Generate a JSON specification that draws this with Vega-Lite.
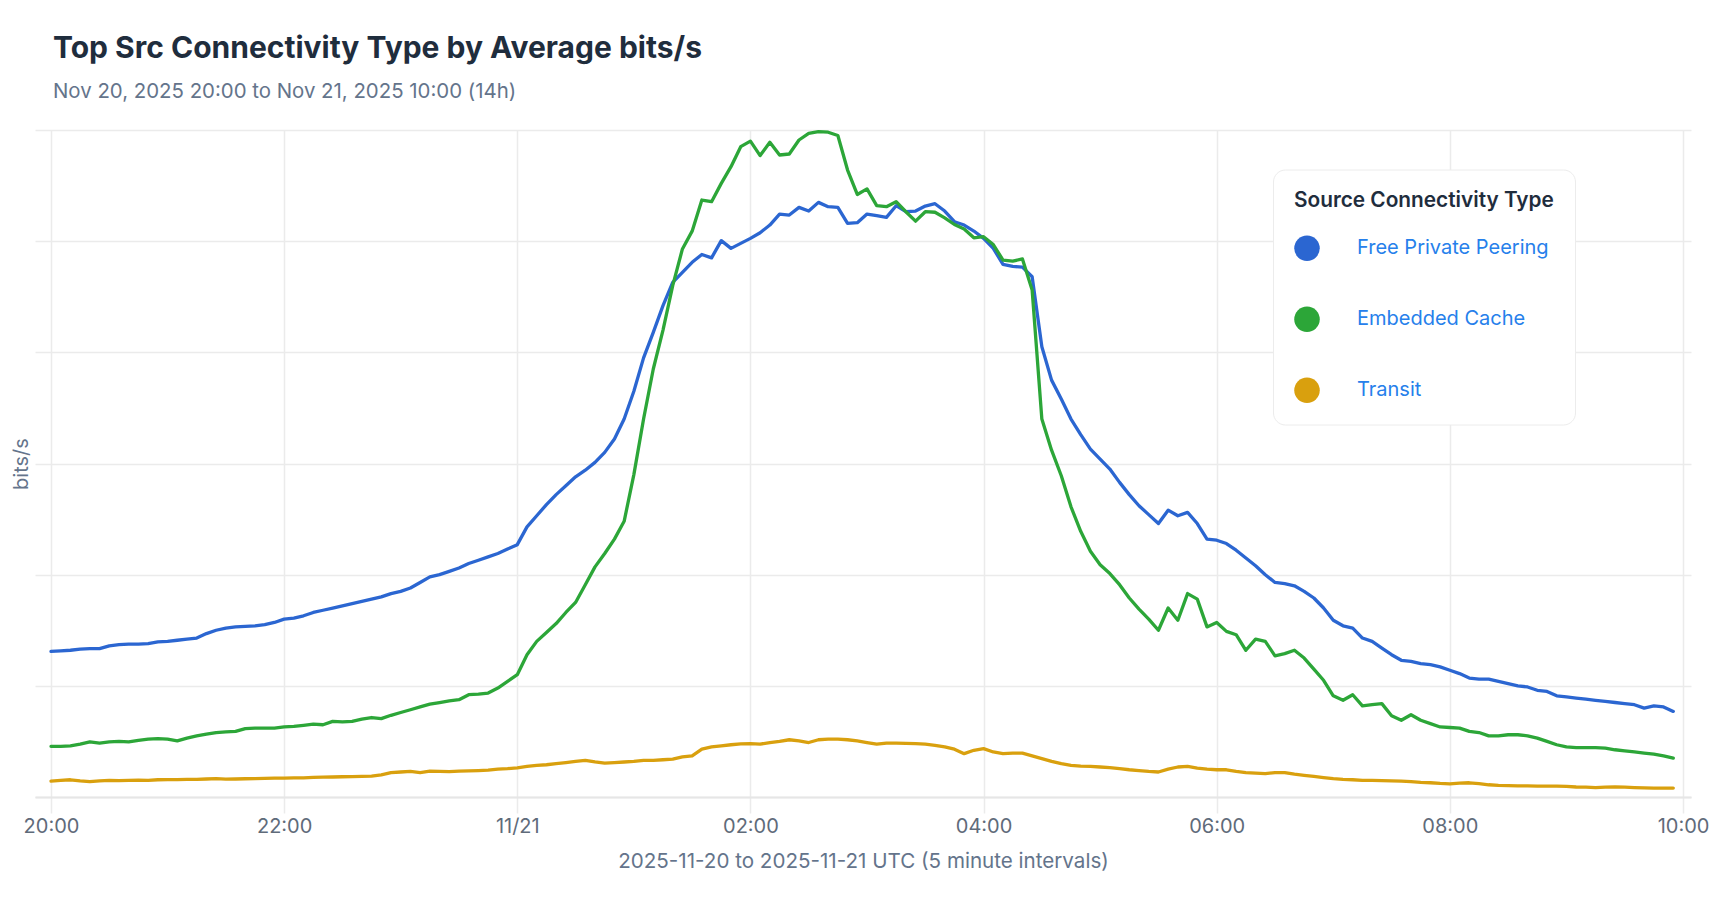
{
"$schema": "https://vega.github.io/schema/vega-lite/v6.json",
"autosize": {"type": "none"},
"width": 1656,
"height": 667,
"padding": {"left": 35, "top": 130, "right": 37, "bottom": 102},
"background": "#ffffff",
"config": {
  "font": "Inter",
  "view": {"stroke": null},
  "axis": {"gridColor": "#ebebeb", "gridWidth": 1.5, "labelFont": "Inter", "titleFont": "Inter", "titleFontWeight": "normal"}
},
"title": {
  "text": "Top Src Connectivity Type by Average bits/s",
  "subtitle": "Nov 20, 2025 20:00 to Nov 21, 2025 10:00 (14h)",
  "anchor": "start", "frame": "group", "dx": 18, "offset": 28,
  "font": "Inter", "fontSize": 30, "fontWeight": 700, "color": "#1f2d3d",
  "subtitleFont": "Inter", "subtitleFontSize": 20.4, "subtitleColor": "#64748b", "subtitlePadding": 18
},
"data": {"values": [
{"t":"2025-11-20T20:00Z","s":"Free Private Peering","v":13.1},
{"t":"2025-11-20T20:05Z","s":"Free Private Peering","v":13.15},
{"t":"2025-11-20T20:10Z","s":"Free Private Peering","v":13.2},
{"t":"2025-11-20T20:15Z","s":"Free Private Peering","v":13.3},
{"t":"2025-11-20T20:20Z","s":"Free Private Peering","v":13.35},
{"t":"2025-11-20T20:25Z","s":"Free Private Peering","v":13.35},
{"t":"2025-11-20T20:30Z","s":"Free Private Peering","v":13.6},
{"t":"2025-11-20T20:35Z","s":"Free Private Peering","v":13.7},
{"t":"2025-11-20T20:40Z","s":"Free Private Peering","v":13.75},
{"t":"2025-11-20T20:45Z","s":"Free Private Peering","v":13.75},
{"t":"2025-11-20T20:50Z","s":"Free Private Peering","v":13.8},
{"t":"2025-11-20T20:55Z","s":"Free Private Peering","v":13.95},
{"t":"2025-11-20T21:00Z","s":"Free Private Peering","v":14.0},
{"t":"2025-11-20T21:05Z","s":"Free Private Peering","v":14.1},
{"t":"2025-11-20T21:10Z","s":"Free Private Peering","v":14.2},
{"t":"2025-11-20T21:15Z","s":"Free Private Peering","v":14.3},
{"t":"2025-11-20T21:20Z","s":"Free Private Peering","v":14.7},
{"t":"2025-11-20T21:25Z","s":"Free Private Peering","v":15.0},
{"t":"2025-11-20T21:30Z","s":"Free Private Peering","v":15.2},
{"t":"2025-11-20T21:35Z","s":"Free Private Peering","v":15.3},
{"t":"2025-11-20T21:40Z","s":"Free Private Peering","v":15.35},
{"t":"2025-11-20T21:45Z","s":"Free Private Peering","v":15.4},
{"t":"2025-11-20T21:50Z","s":"Free Private Peering","v":15.5},
{"t":"2025-11-20T21:55Z","s":"Free Private Peering","v":15.7},
{"t":"2025-11-20T22:00Z","s":"Free Private Peering","v":16.0},
{"t":"2025-11-20T22:05Z","s":"Free Private Peering","v":16.1},
{"t":"2025-11-20T22:10Z","s":"Free Private Peering","v":16.3},
{"t":"2025-11-20T22:15Z","s":"Free Private Peering","v":16.6},
{"t":"2025-11-20T22:20Z","s":"Free Private Peering","v":16.8},
{"t":"2025-11-20T22:25Z","s":"Free Private Peering","v":17.0},
{"t":"2025-11-20T22:30Z","s":"Free Private Peering","v":17.2},
{"t":"2025-11-20T22:35Z","s":"Free Private Peering","v":17.4},
{"t":"2025-11-20T22:40Z","s":"Free Private Peering","v":17.6},
{"t":"2025-11-20T22:45Z","s":"Free Private Peering","v":17.8},
{"t":"2025-11-20T22:50Z","s":"Free Private Peering","v":18.0},
{"t":"2025-11-20T22:55Z","s":"Free Private Peering","v":18.3},
{"t":"2025-11-20T23:00Z","s":"Free Private Peering","v":18.5},
{"t":"2025-11-20T23:05Z","s":"Free Private Peering","v":18.8},
{"t":"2025-11-20T23:10Z","s":"Free Private Peering","v":19.3},
{"t":"2025-11-20T23:15Z","s":"Free Private Peering","v":19.8},
{"t":"2025-11-20T23:20Z","s":"Free Private Peering","v":20.0},
{"t":"2025-11-20T23:25Z","s":"Free Private Peering","v":20.3},
{"t":"2025-11-20T23:30Z","s":"Free Private Peering","v":20.6},
{"t":"2025-11-20T23:35Z","s":"Free Private Peering","v":21.0},
{"t":"2025-11-20T23:40Z","s":"Free Private Peering","v":21.3},
{"t":"2025-11-20T23:45Z","s":"Free Private Peering","v":21.6},
{"t":"2025-11-20T23:50Z","s":"Free Private Peering","v":21.9},
{"t":"2025-11-20T23:55Z","s":"Free Private Peering","v":22.3},
{"t":"2025-11-21T00:00Z","s":"Free Private Peering","v":22.7},
{"t":"2025-11-21T00:05Z","s":"Free Private Peering","v":24.3},
{"t":"2025-11-21T00:10Z","s":"Free Private Peering","v":25.3},
{"t":"2025-11-21T00:15Z","s":"Free Private Peering","v":26.3},
{"t":"2025-11-21T00:20Z","s":"Free Private Peering","v":27.2},
{"t":"2025-11-21T00:25Z","s":"Free Private Peering","v":28.0},
{"t":"2025-11-21T00:30Z","s":"Free Private Peering","v":28.8},
{"t":"2025-11-21T00:35Z","s":"Free Private Peering","v":29.4},
{"t":"2025-11-21T00:40Z","s":"Free Private Peering","v":30.1},
{"t":"2025-11-21T00:45Z","s":"Free Private Peering","v":31.0},
{"t":"2025-11-21T00:50Z","s":"Free Private Peering","v":32.2},
{"t":"2025-11-21T00:55Z","s":"Free Private Peering","v":34.0},
{"t":"2025-11-21T01:00Z","s":"Free Private Peering","v":36.5},
{"t":"2025-11-21T01:05Z","s":"Free Private Peering","v":39.5},
{"t":"2025-11-21T01:10Z","s":"Free Private Peering","v":41.8},
{"t":"2025-11-21T01:15Z","s":"Free Private Peering","v":44.2},
{"t":"2025-11-21T01:20Z","s":"Free Private Peering","v":46.3},
{"t":"2025-11-21T01:25Z","s":"Free Private Peering","v":47.2},
{"t":"2025-11-21T01:30Z","s":"Free Private Peering","v":48.1},
{"t":"2025-11-21T01:35Z","s":"Free Private Peering","v":48.8},
{"t":"2025-11-21T01:40Z","s":"Free Private Peering","v":48.5},
{"t":"2025-11-21T01:45Z","s":"Free Private Peering","v":50.05},
{"t":"2025-11-21T01:50Z","s":"Free Private Peering","v":49.35},
{"t":"2025-11-21T01:55Z","s":"Free Private Peering","v":49.8},
{"t":"2025-11-21T02:00Z","s":"Free Private Peering","v":50.25},
{"t":"2025-11-21T02:05Z","s":"Free Private Peering","v":50.76},
{"t":"2025-11-21T02:10Z","s":"Free Private Peering","v":51.45},
{"t":"2025-11-21T02:15Z","s":"Free Private Peering","v":52.44},
{"t":"2025-11-21T02:20Z","s":"Free Private Peering","v":52.35},
{"t":"2025-11-21T02:25Z","s":"Free Private Peering","v":53.04},
{"t":"2025-11-21T02:30Z","s":"Free Private Peering","v":52.71},
{"t":"2025-11-21T02:35Z","s":"Free Private Peering","v":53.49},
{"t":"2025-11-21T02:40Z","s":"Free Private Peering","v":53.1},
{"t":"2025-11-21T02:45Z","s":"Free Private Peering","v":53.04},
{"t":"2025-11-21T02:50Z","s":"Free Private Peering","v":51.6},
{"t":"2025-11-21T02:55Z","s":"Free Private Peering","v":51.66},
{"t":"2025-11-21T03:00Z","s":"Free Private Peering","v":52.44},
{"t":"2025-11-21T03:05Z","s":"Free Private Peering","v":52.29},
{"t":"2025-11-21T03:10Z","s":"Free Private Peering","v":52.14},
{"t":"2025-11-21T03:15Z","s":"Free Private Peering","v":53.19},
{"t":"2025-11-21T03:20Z","s":"Free Private Peering","v":52.65},
{"t":"2025-11-21T03:25Z","s":"Free Private Peering","v":52.71},
{"t":"2025-11-21T03:30Z","s":"Free Private Peering","v":53.16},
{"t":"2025-11-21T03:35Z","s":"Free Private Peering","v":53.37},
{"t":"2025-11-21T03:40Z","s":"Free Private Peering","v":52.71},
{"t":"2025-11-21T03:45Z","s":"Free Private Peering","v":51.75},
{"t":"2025-11-21T03:50Z","s":"Free Private Peering","v":51.45},
{"t":"2025-11-21T03:55Z","s":"Free Private Peering","v":50.91},
{"t":"2025-11-21T04:00Z","s":"Free Private Peering","v":50.25},
{"t":"2025-11-21T04:05Z","s":"Free Private Peering","v":49.35},
{"t":"2025-11-21T04:10Z","s":"Free Private Peering","v":47.91},
{"t":"2025-11-21T04:15Z","s":"Free Private Peering","v":47.73},
{"t":"2025-11-21T04:20Z","s":"Free Private Peering","v":47.67},
{"t":"2025-11-21T04:25Z","s":"Free Private Peering","v":46.8},
{"t":"2025-11-21T04:30Z","s":"Free Private Peering","v":40.5},
{"t":"2025-11-21T04:35Z","s":"Free Private Peering","v":37.5},
{"t":"2025-11-21T04:40Z","s":"Free Private Peering","v":35.8},
{"t":"2025-11-21T04:45Z","s":"Free Private Peering","v":34.0},
{"t":"2025-11-21T04:50Z","s":"Free Private Peering","v":32.6},
{"t":"2025-11-21T04:55Z","s":"Free Private Peering","v":31.3},
{"t":"2025-11-21T05:00Z","s":"Free Private Peering","v":30.4},
{"t":"2025-11-21T05:05Z","s":"Free Private Peering","v":29.5},
{"t":"2025-11-21T05:10Z","s":"Free Private Peering","v":28.3},
{"t":"2025-11-21T05:15Z","s":"Free Private Peering","v":27.2},
{"t":"2025-11-21T05:20Z","s":"Free Private Peering","v":26.2},
{"t":"2025-11-21T05:25Z","s":"Free Private Peering","v":25.4},
{"t":"2025-11-21T05:30Z","s":"Free Private Peering","v":24.6},
{"t":"2025-11-21T05:35Z","s":"Free Private Peering","v":25.8},
{"t":"2025-11-21T05:40Z","s":"Free Private Peering","v":25.3},
{"t":"2025-11-21T05:45Z","s":"Free Private Peering","v":25.6},
{"t":"2025-11-21T05:50Z","s":"Free Private Peering","v":24.6},
{"t":"2025-11-21T05:55Z","s":"Free Private Peering","v":23.2},
{"t":"2025-11-21T06:00Z","s":"Free Private Peering","v":23.1},
{"t":"2025-11-21T06:05Z","s":"Free Private Peering","v":22.8},
{"t":"2025-11-21T06:10Z","s":"Free Private Peering","v":22.2},
{"t":"2025-11-21T06:15Z","s":"Free Private Peering","v":21.5},
{"t":"2025-11-21T06:20Z","s":"Free Private Peering","v":20.8},
{"t":"2025-11-21T06:25Z","s":"Free Private Peering","v":20.0},
{"t":"2025-11-21T06:30Z","s":"Free Private Peering","v":19.3},
{"t":"2025-11-21T06:35Z","s":"Free Private Peering","v":19.2},
{"t":"2025-11-21T06:40Z","s":"Free Private Peering","v":19.0},
{"t":"2025-11-21T06:45Z","s":"Free Private Peering","v":18.5},
{"t":"2025-11-21T06:50Z","s":"Free Private Peering","v":17.9},
{"t":"2025-11-21T06:55Z","s":"Free Private Peering","v":17.0},
{"t":"2025-11-21T07:00Z","s":"Free Private Peering","v":15.9},
{"t":"2025-11-21T07:05Z","s":"Free Private Peering","v":15.4},
{"t":"2025-11-21T07:10Z","s":"Free Private Peering","v":15.2},
{"t":"2025-11-21T07:15Z","s":"Free Private Peering","v":14.3},
{"t":"2025-11-21T07:20Z","s":"Free Private Peering","v":14.0},
{"t":"2025-11-21T07:25Z","s":"Free Private Peering","v":13.4},
{"t":"2025-11-21T07:30Z","s":"Free Private Peering","v":12.8},
{"t":"2025-11-21T07:35Z","s":"Free Private Peering","v":12.3},
{"t":"2025-11-21T07:40Z","s":"Free Private Peering","v":12.2},
{"t":"2025-11-21T07:45Z","s":"Free Private Peering","v":12.0},
{"t":"2025-11-21T07:50Z","s":"Free Private Peering","v":11.9},
{"t":"2025-11-21T07:55Z","s":"Free Private Peering","v":11.7},
{"t":"2025-11-21T08:00Z","s":"Free Private Peering","v":11.4},
{"t":"2025-11-21T08:05Z","s":"Free Private Peering","v":11.1},
{"t":"2025-11-21T08:10Z","s":"Free Private Peering","v":10.7},
{"t":"2025-11-21T08:15Z","s":"Free Private Peering","v":10.6},
{"t":"2025-11-21T08:20Z","s":"Free Private Peering","v":10.6},
{"t":"2025-11-21T08:25Z","s":"Free Private Peering","v":10.4},
{"t":"2025-11-21T08:30Z","s":"Free Private Peering","v":10.2},
{"t":"2025-11-21T08:35Z","s":"Free Private Peering","v":10.0},
{"t":"2025-11-21T08:40Z","s":"Free Private Peering","v":9.9},
{"t":"2025-11-21T08:45Z","s":"Free Private Peering","v":9.6},
{"t":"2025-11-21T08:50Z","s":"Free Private Peering","v":9.5},
{"t":"2025-11-21T08:55Z","s":"Free Private Peering","v":9.1},
{"t":"2025-11-21T09:00Z","s":"Free Private Peering","v":9.0},
{"t":"2025-11-21T09:05Z","s":"Free Private Peering","v":8.9},
{"t":"2025-11-21T09:10Z","s":"Free Private Peering","v":8.8},
{"t":"2025-11-21T09:15Z","s":"Free Private Peering","v":8.7},
{"t":"2025-11-21T09:20Z","s":"Free Private Peering","v":8.6},
{"t":"2025-11-21T09:25Z","s":"Free Private Peering","v":8.5},
{"t":"2025-11-21T09:30Z","s":"Free Private Peering","v":8.4},
{"t":"2025-11-21T09:35Z","s":"Free Private Peering","v":8.3},
{"t":"2025-11-21T09:40Z","s":"Free Private Peering","v":8.0},
{"t":"2025-11-21T09:45Z","s":"Free Private Peering","v":8.2},
{"t":"2025-11-21T09:50Z","s":"Free Private Peering","v":8.1},
{"t":"2025-11-21T09:55Z","s":"Free Private Peering","v":7.7},
{"t":"2025-11-20T20:00Z","s":"Embedded Cache","v":4.56},
{"t":"2025-11-20T20:05Z","s":"Embedded Cache","v":4.55},
{"t":"2025-11-20T20:10Z","s":"Embedded Cache","v":4.6},
{"t":"2025-11-20T20:15Z","s":"Embedded Cache","v":4.75},
{"t":"2025-11-20T20:20Z","s":"Embedded Cache","v":4.95},
{"t":"2025-11-20T20:25Z","s":"Embedded Cache","v":4.85},
{"t":"2025-11-20T20:30Z","s":"Embedded Cache","v":4.95},
{"t":"2025-11-20T20:35Z","s":"Embedded Cache","v":5.0},
{"t":"2025-11-20T20:40Z","s":"Embedded Cache","v":4.95},
{"t":"2025-11-20T20:45Z","s":"Embedded Cache","v":5.1},
{"t":"2025-11-20T20:50Z","s":"Embedded Cache","v":5.2},
{"t":"2025-11-20T20:55Z","s":"Embedded Cache","v":5.25},
{"t":"2025-11-20T21:00Z","s":"Embedded Cache","v":5.2},
{"t":"2025-11-20T21:05Z","s":"Embedded Cache","v":5.05},
{"t":"2025-11-20T21:10Z","s":"Embedded Cache","v":5.3},
{"t":"2025-11-20T21:15Z","s":"Embedded Cache","v":5.5},
{"t":"2025-11-20T21:20Z","s":"Embedded Cache","v":5.65},
{"t":"2025-11-20T21:25Z","s":"Embedded Cache","v":5.8},
{"t":"2025-11-20T21:30Z","s":"Embedded Cache","v":5.85},
{"t":"2025-11-20T21:35Z","s":"Embedded Cache","v":5.9},
{"t":"2025-11-20T21:40Z","s":"Embedded Cache","v":6.15},
{"t":"2025-11-20T21:45Z","s":"Embedded Cache","v":6.2},
{"t":"2025-11-20T21:50Z","s":"Embedded Cache","v":6.2},
{"t":"2025-11-20T21:55Z","s":"Embedded Cache","v":6.2},
{"t":"2025-11-20T22:00Z","s":"Embedded Cache","v":6.3},
{"t":"2025-11-20T22:05Z","s":"Embedded Cache","v":6.35},
{"t":"2025-11-20T22:10Z","s":"Embedded Cache","v":6.45},
{"t":"2025-11-20T22:15Z","s":"Embedded Cache","v":6.55},
{"t":"2025-11-20T22:20Z","s":"Embedded Cache","v":6.5},
{"t":"2025-11-20T22:25Z","s":"Embedded Cache","v":6.8},
{"t":"2025-11-20T22:30Z","s":"Embedded Cache","v":6.75},
{"t":"2025-11-20T22:35Z","s":"Embedded Cache","v":6.8},
{"t":"2025-11-20T22:40Z","s":"Embedded Cache","v":7.0},
{"t":"2025-11-20T22:45Z","s":"Embedded Cache","v":7.15},
{"t":"2025-11-20T22:50Z","s":"Embedded Cache","v":7.05},
{"t":"2025-11-20T22:55Z","s":"Embedded Cache","v":7.35},
{"t":"2025-11-20T23:00Z","s":"Embedded Cache","v":7.6},
{"t":"2025-11-20T23:05Z","s":"Embedded Cache","v":7.85},
{"t":"2025-11-20T23:10Z","s":"Embedded Cache","v":8.1},
{"t":"2025-11-20T23:15Z","s":"Embedded Cache","v":8.35},
{"t":"2025-11-20T23:20Z","s":"Embedded Cache","v":8.5},
{"t":"2025-11-20T23:25Z","s":"Embedded Cache","v":8.65},
{"t":"2025-11-20T23:30Z","s":"Embedded Cache","v":8.75},
{"t":"2025-11-20T23:35Z","s":"Embedded Cache","v":9.2},
{"t":"2025-11-20T23:40Z","s":"Embedded Cache","v":9.25},
{"t":"2025-11-20T23:45Z","s":"Embedded Cache","v":9.35},
{"t":"2025-11-20T23:50Z","s":"Embedded Cache","v":9.8},
{"t":"2025-11-20T23:55Z","s":"Embedded Cache","v":10.4},
{"t":"2025-11-21T00:00Z","s":"Embedded Cache","v":11.0},
{"t":"2025-11-21T00:05Z","s":"Embedded Cache","v":12.8},
{"t":"2025-11-21T00:10Z","s":"Embedded Cache","v":14.0},
{"t":"2025-11-21T00:15Z","s":"Embedded Cache","v":14.8},
{"t":"2025-11-21T00:20Z","s":"Embedded Cache","v":15.6},
{"t":"2025-11-21T00:25Z","s":"Embedded Cache","v":16.6},
{"t":"2025-11-21T00:30Z","s":"Embedded Cache","v":17.5},
{"t":"2025-11-21T00:35Z","s":"Embedded Cache","v":19.1},
{"t":"2025-11-21T00:40Z","s":"Embedded Cache","v":20.7},
{"t":"2025-11-21T00:45Z","s":"Embedded Cache","v":21.9},
{"t":"2025-11-21T00:50Z","s":"Embedded Cache","v":23.2},
{"t":"2025-11-21T00:55Z","s":"Embedded Cache","v":24.8},
{"t":"2025-11-21T01:00Z","s":"Embedded Cache","v":29.0},
{"t":"2025-11-21T01:05Z","s":"Embedded Cache","v":34.0},
{"t":"2025-11-21T01:10Z","s":"Embedded Cache","v":38.5},
{"t":"2025-11-21T01:15Z","s":"Embedded Cache","v":42.0},
{"t":"2025-11-21T01:20Z","s":"Embedded Cache","v":46.0},
{"t":"2025-11-21T01:25Z","s":"Embedded Cache","v":49.3},
{"t":"2025-11-21T01:30Z","s":"Embedded Cache","v":50.9},
{"t":"2025-11-21T01:35Z","s":"Embedded Cache","v":53.7},
{"t":"2025-11-21T01:40Z","s":"Embedded Cache","v":53.55},
{"t":"2025-11-21T01:45Z","s":"Embedded Cache","v":55.2},
{"t":"2025-11-21T01:50Z","s":"Embedded Cache","v":56.7},
{"t":"2025-11-21T01:55Z","s":"Embedded Cache","v":58.5},
{"t":"2025-11-21T02:00Z","s":"Embedded Cache","v":59.0},
{"t":"2025-11-21T02:05Z","s":"Embedded Cache","v":57.7},
{"t":"2025-11-21T02:10Z","s":"Embedded Cache","v":58.9},
{"t":"2025-11-21T02:15Z","s":"Embedded Cache","v":57.75},
{"t":"2025-11-21T02:20Z","s":"Embedded Cache","v":57.84},
{"t":"2025-11-21T02:25Z","s":"Embedded Cache","v":59.1},
{"t":"2025-11-21T02:30Z","s":"Embedded Cache","v":59.7},
{"t":"2025-11-21T02:35Z","s":"Embedded Cache","v":59.85},
{"t":"2025-11-21T02:40Z","s":"Embedded Cache","v":59.8},
{"t":"2025-11-21T02:45Z","s":"Embedded Cache","v":59.5},
{"t":"2025-11-21T02:50Z","s":"Embedded Cache","v":56.4},
{"t":"2025-11-21T02:55Z","s":"Embedded Cache","v":54.2},
{"t":"2025-11-21T03:00Z","s":"Embedded Cache","v":54.7},
{"t":"2025-11-21T03:05Z","s":"Embedded Cache","v":53.2},
{"t":"2025-11-21T03:10Z","s":"Embedded Cache","v":53.1},
{"t":"2025-11-21T03:15Z","s":"Embedded Cache","v":53.55},
{"t":"2025-11-21T03:20Z","s":"Embedded Cache","v":52.65},
{"t":"2025-11-21T03:25Z","s":"Embedded Cache","v":51.8},
{"t":"2025-11-21T03:30Z","s":"Embedded Cache","v":52.65},
{"t":"2025-11-21T03:35Z","s":"Embedded Cache","v":52.6},
{"t":"2025-11-21T03:40Z","s":"Embedded Cache","v":52.1},
{"t":"2025-11-21T03:45Z","s":"Embedded Cache","v":51.5},
{"t":"2025-11-21T03:50Z","s":"Embedded Cache","v":51.1},
{"t":"2025-11-21T03:55Z","s":"Embedded Cache","v":50.3},
{"t":"2025-11-21T04:00Z","s":"Embedded Cache","v":50.4},
{"t":"2025-11-21T04:05Z","s":"Embedded Cache","v":49.7},
{"t":"2025-11-21T04:10Z","s":"Embedded Cache","v":48.3},
{"t":"2025-11-21T04:15Z","s":"Embedded Cache","v":48.2},
{"t":"2025-11-21T04:20Z","s":"Embedded Cache","v":48.4},
{"t":"2025-11-21T04:25Z","s":"Embedded Cache","v":45.6},
{"t":"2025-11-21T04:30Z","s":"Embedded Cache","v":34.0},
{"t":"2025-11-21T04:35Z","s":"Embedded Cache","v":31.2},
{"t":"2025-11-21T04:40Z","s":"Embedded Cache","v":28.9},
{"t":"2025-11-21T04:45Z","s":"Embedded Cache","v":26.1},
{"t":"2025-11-21T04:50Z","s":"Embedded Cache","v":23.9},
{"t":"2025-11-21T04:55Z","s":"Embedded Cache","v":22.1},
{"t":"2025-11-21T05:00Z","s":"Embedded Cache","v":20.9},
{"t":"2025-11-21T05:05Z","s":"Embedded Cache","v":20.1},
{"t":"2025-11-21T05:10Z","s":"Embedded Cache","v":19.1},
{"t":"2025-11-21T05:15Z","s":"Embedded Cache","v":17.9},
{"t":"2025-11-21T05:20Z","s":"Embedded Cache","v":16.9},
{"t":"2025-11-21T05:25Z","s":"Embedded Cache","v":16.0},
{"t":"2025-11-21T05:30Z","s":"Embedded Cache","v":15.0},
{"t":"2025-11-21T05:35Z","s":"Embedded Cache","v":17.0},
{"t":"2025-11-21T05:40Z","s":"Embedded Cache","v":15.9},
{"t":"2025-11-21T05:45Z","s":"Embedded Cache","v":18.3},
{"t":"2025-11-21T05:50Z","s":"Embedded Cache","v":17.8},
{"t":"2025-11-21T05:55Z","s":"Embedded Cache","v":15.3},
{"t":"2025-11-21T06:00Z","s":"Embedded Cache","v":15.7},
{"t":"2025-11-21T06:05Z","s":"Embedded Cache","v":14.9},
{"t":"2025-11-21T06:10Z","s":"Embedded Cache","v":14.6},
{"t":"2025-11-21T06:15Z","s":"Embedded Cache","v":13.2},
{"t":"2025-11-21T06:20Z","s":"Embedded Cache","v":14.2},
{"t":"2025-11-21T06:25Z","s":"Embedded Cache","v":14.0},
{"t":"2025-11-21T06:30Z","s":"Embedded Cache","v":12.7},
{"t":"2025-11-21T06:35Z","s":"Embedded Cache","v":12.9},
{"t":"2025-11-21T06:40Z","s":"Embedded Cache","v":13.2},
{"t":"2025-11-21T06:45Z","s":"Embedded Cache","v":12.5},
{"t":"2025-11-21T06:50Z","s":"Embedded Cache","v":11.5},
{"t":"2025-11-21T06:55Z","s":"Embedded Cache","v":10.5},
{"t":"2025-11-21T07:00Z","s":"Embedded Cache","v":9.1},
{"t":"2025-11-21T07:05Z","s":"Embedded Cache","v":8.7},
{"t":"2025-11-21T07:10Z","s":"Embedded Cache","v":9.2},
{"t":"2025-11-21T07:15Z","s":"Embedded Cache","v":8.2},
{"t":"2025-11-21T07:20Z","s":"Embedded Cache","v":8.3},
{"t":"2025-11-21T07:25Z","s":"Embedded Cache","v":8.4},
{"t":"2025-11-21T07:30Z","s":"Embedded Cache","v":7.3},
{"t":"2025-11-21T07:35Z","s":"Embedded Cache","v":6.9},
{"t":"2025-11-21T07:40Z","s":"Embedded Cache","v":7.4},
{"t":"2025-11-21T07:45Z","s":"Embedded Cache","v":6.9},
{"t":"2025-11-21T07:50Z","s":"Embedded Cache","v":6.6},
{"t":"2025-11-21T07:55Z","s":"Embedded Cache","v":6.3},
{"t":"2025-11-21T08:00Z","s":"Embedded Cache","v":6.25},
{"t":"2025-11-21T08:05Z","s":"Embedded Cache","v":6.2},
{"t":"2025-11-21T08:10Z","s":"Embedded Cache","v":5.9},
{"t":"2025-11-21T08:15Z","s":"Embedded Cache","v":5.8},
{"t":"2025-11-21T08:20Z","s":"Embedded Cache","v":5.5},
{"t":"2025-11-21T08:25Z","s":"Embedded Cache","v":5.5},
{"t":"2025-11-21T08:30Z","s":"Embedded Cache","v":5.6},
{"t":"2025-11-21T08:35Z","s":"Embedded Cache","v":5.6},
{"t":"2025-11-21T08:40Z","s":"Embedded Cache","v":5.5},
{"t":"2025-11-21T08:45Z","s":"Embedded Cache","v":5.3},
{"t":"2025-11-21T08:50Z","s":"Embedded Cache","v":5.0},
{"t":"2025-11-21T08:55Z","s":"Embedded Cache","v":4.7},
{"t":"2025-11-21T09:00Z","s":"Embedded Cache","v":4.5},
{"t":"2025-11-21T09:05Z","s":"Embedded Cache","v":4.45},
{"t":"2025-11-21T09:10Z","s":"Embedded Cache","v":4.45},
{"t":"2025-11-21T09:15Z","s":"Embedded Cache","v":4.45},
{"t":"2025-11-21T09:20Z","s":"Embedded Cache","v":4.4},
{"t":"2025-11-21T09:25Z","s":"Embedded Cache","v":4.25},
{"t":"2025-11-21T09:30Z","s":"Embedded Cache","v":4.15},
{"t":"2025-11-21T09:35Z","s":"Embedded Cache","v":4.05},
{"t":"2025-11-21T09:40Z","s":"Embedded Cache","v":3.95},
{"t":"2025-11-21T09:45Z","s":"Embedded Cache","v":3.85},
{"t":"2025-11-21T09:50Z","s":"Embedded Cache","v":3.7},
{"t":"2025-11-21T09:55Z","s":"Embedded Cache","v":3.5},
{"t":"2025-11-20T20:00Z","s":"Transit","v":1.42},
{"t":"2025-11-20T20:05Z","s":"Transit","v":1.5},
{"t":"2025-11-20T20:10Z","s":"Transit","v":1.55},
{"t":"2025-11-20T20:15Z","s":"Transit","v":1.45},
{"t":"2025-11-20T20:20Z","s":"Transit","v":1.38},
{"t":"2025-11-20T20:25Z","s":"Transit","v":1.45},
{"t":"2025-11-20T20:30Z","s":"Transit","v":1.5},
{"t":"2025-11-20T20:35Z","s":"Transit","v":1.48},
{"t":"2025-11-20T20:40Z","s":"Transit","v":1.5},
{"t":"2025-11-20T20:45Z","s":"Transit","v":1.52},
{"t":"2025-11-20T20:50Z","s":"Transit","v":1.5},
{"t":"2025-11-20T20:55Z","s":"Transit","v":1.55},
{"t":"2025-11-20T21:00Z","s":"Transit","v":1.56},
{"t":"2025-11-20T21:05Z","s":"Transit","v":1.56},
{"t":"2025-11-20T21:10Z","s":"Transit","v":1.58},
{"t":"2025-11-20T21:15Z","s":"Transit","v":1.58},
{"t":"2025-11-20T21:20Z","s":"Transit","v":1.62},
{"t":"2025-11-20T21:25Z","s":"Transit","v":1.65},
{"t":"2025-11-20T21:30Z","s":"Transit","v":1.6},
{"t":"2025-11-20T21:35Z","s":"Transit","v":1.62},
{"t":"2025-11-20T21:40Z","s":"Transit","v":1.64},
{"t":"2025-11-20T21:45Z","s":"Transit","v":1.66},
{"t":"2025-11-20T21:50Z","s":"Transit","v":1.68},
{"t":"2025-11-20T21:55Z","s":"Transit","v":1.7},
{"t":"2025-11-20T22:00Z","s":"Transit","v":1.7},
{"t":"2025-11-20T22:05Z","s":"Transit","v":1.72},
{"t":"2025-11-20T22:10Z","s":"Transit","v":1.72},
{"t":"2025-11-20T22:15Z","s":"Transit","v":1.76},
{"t":"2025-11-20T22:20Z","s":"Transit","v":1.78},
{"t":"2025-11-20T22:25Z","s":"Transit","v":1.8},
{"t":"2025-11-20T22:30Z","s":"Transit","v":1.82},
{"t":"2025-11-20T22:35Z","s":"Transit","v":1.84},
{"t":"2025-11-20T22:40Z","s":"Transit","v":1.86},
{"t":"2025-11-20T22:45Z","s":"Transit","v":1.88},
{"t":"2025-11-20T22:50Z","s":"Transit","v":2.0},
{"t":"2025-11-20T22:55Z","s":"Transit","v":2.2},
{"t":"2025-11-20T23:00Z","s":"Transit","v":2.25},
{"t":"2025-11-20T23:05Z","s":"Transit","v":2.3},
{"t":"2025-11-20T23:10Z","s":"Transit","v":2.2},
{"t":"2025-11-20T23:15Z","s":"Transit","v":2.32},
{"t":"2025-11-20T23:20Z","s":"Transit","v":2.3},
{"t":"2025-11-20T23:25Z","s":"Transit","v":2.28},
{"t":"2025-11-20T23:30Z","s":"Transit","v":2.32},
{"t":"2025-11-20T23:35Z","s":"Transit","v":2.35},
{"t":"2025-11-20T23:40Z","s":"Transit","v":2.38},
{"t":"2025-11-20T23:45Z","s":"Transit","v":2.42},
{"t":"2025-11-20T23:50Z","s":"Transit","v":2.5},
{"t":"2025-11-20T23:55Z","s":"Transit","v":2.55},
{"t":"2025-11-21T00:00Z","s":"Transit","v":2.62},
{"t":"2025-11-21T00:05Z","s":"Transit","v":2.75},
{"t":"2025-11-21T00:10Z","s":"Transit","v":2.85},
{"t":"2025-11-21T00:15Z","s":"Transit","v":2.9},
{"t":"2025-11-21T00:20Z","s":"Transit","v":3.0},
{"t":"2025-11-21T00:25Z","s":"Transit","v":3.1},
{"t":"2025-11-21T00:30Z","s":"Transit","v":3.2},
{"t":"2025-11-21T00:35Z","s":"Transit","v":3.3},
{"t":"2025-11-21T00:40Z","s":"Transit","v":3.15},
{"t":"2025-11-21T00:45Z","s":"Transit","v":3.05},
{"t":"2025-11-21T00:50Z","s":"Transit","v":3.1},
{"t":"2025-11-21T00:55Z","s":"Transit","v":3.15},
{"t":"2025-11-21T01:00Z","s":"Transit","v":3.2},
{"t":"2025-11-21T01:05Z","s":"Transit","v":3.3},
{"t":"2025-11-21T01:10Z","s":"Transit","v":3.3},
{"t":"2025-11-21T01:15Z","s":"Transit","v":3.35},
{"t":"2025-11-21T01:20Z","s":"Transit","v":3.4},
{"t":"2025-11-21T01:25Z","s":"Transit","v":3.6},
{"t":"2025-11-21T01:30Z","s":"Transit","v":3.7},
{"t":"2025-11-21T01:35Z","s":"Transit","v":4.3},
{"t":"2025-11-21T01:40Z","s":"Transit","v":4.5},
{"t":"2025-11-21T01:45Z","s":"Transit","v":4.6},
{"t":"2025-11-21T01:50Z","s":"Transit","v":4.7},
{"t":"2025-11-21T01:55Z","s":"Transit","v":4.78},
{"t":"2025-11-21T02:00Z","s":"Transit","v":4.8},
{"t":"2025-11-21T02:05Z","s":"Transit","v":4.75},
{"t":"2025-11-21T02:10Z","s":"Transit","v":4.9},
{"t":"2025-11-21T02:15Z","s":"Transit","v":5.0},
{"t":"2025-11-21T02:20Z","s":"Transit","v":5.15},
{"t":"2025-11-21T02:25Z","s":"Transit","v":5.05},
{"t":"2025-11-21T02:30Z","s":"Transit","v":4.9},
{"t":"2025-11-21T02:35Z","s":"Transit","v":5.15},
{"t":"2025-11-21T02:40Z","s":"Transit","v":5.2},
{"t":"2025-11-21T02:45Z","s":"Transit","v":5.2},
{"t":"2025-11-21T02:50Z","s":"Transit","v":5.15},
{"t":"2025-11-21T02:55Z","s":"Transit","v":5.05},
{"t":"2025-11-21T03:00Z","s":"Transit","v":4.9},
{"t":"2025-11-21T03:05Z","s":"Transit","v":4.75},
{"t":"2025-11-21T03:10Z","s":"Transit","v":4.85},
{"t":"2025-11-21T03:15Z","s":"Transit","v":4.85},
{"t":"2025-11-21T03:20Z","s":"Transit","v":4.82},
{"t":"2025-11-21T03:25Z","s":"Transit","v":4.8},
{"t":"2025-11-21T03:30Z","s":"Transit","v":4.75},
{"t":"2025-11-21T03:35Z","s":"Transit","v":4.65},
{"t":"2025-11-21T03:40Z","s":"Transit","v":4.5},
{"t":"2025-11-21T03:45Z","s":"Transit","v":4.3},
{"t":"2025-11-21T03:50Z","s":"Transit","v":3.9},
{"t":"2025-11-21T03:55Z","s":"Transit","v":4.2},
{"t":"2025-11-21T04:00Z","s":"Transit","v":4.35},
{"t":"2025-11-21T04:05Z","s":"Transit","v":4.05},
{"t":"2025-11-21T04:10Z","s":"Transit","v":3.9},
{"t":"2025-11-21T04:15Z","s":"Transit","v":3.95},
{"t":"2025-11-21T04:20Z","s":"Transit","v":3.95},
{"t":"2025-11-21T04:25Z","s":"Transit","v":3.7},
{"t":"2025-11-21T04:30Z","s":"Transit","v":3.45},
{"t":"2025-11-21T04:35Z","s":"Transit","v":3.2},
{"t":"2025-11-21T04:40Z","s":"Transit","v":3.0},
{"t":"2025-11-21T04:45Z","s":"Transit","v":2.85},
{"t":"2025-11-21T04:50Z","s":"Transit","v":2.78},
{"t":"2025-11-21T04:55Z","s":"Transit","v":2.75},
{"t":"2025-11-21T05:00Z","s":"Transit","v":2.7},
{"t":"2025-11-21T05:05Z","s":"Transit","v":2.65},
{"t":"2025-11-21T05:10Z","s":"Transit","v":2.55},
{"t":"2025-11-21T05:15Z","s":"Transit","v":2.45},
{"t":"2025-11-21T05:20Z","s":"Transit","v":2.38},
{"t":"2025-11-21T05:25Z","s":"Transit","v":2.3},
{"t":"2025-11-21T05:30Z","s":"Transit","v":2.25},
{"t":"2025-11-21T05:35Z","s":"Transit","v":2.5},
{"t":"2025-11-21T05:40Z","s":"Transit","v":2.7},
{"t":"2025-11-21T05:45Z","s":"Transit","v":2.75},
{"t":"2025-11-21T05:50Z","s":"Transit","v":2.6},
{"t":"2025-11-21T05:55Z","s":"Transit","v":2.5},
{"t":"2025-11-21T06:00Z","s":"Transit","v":2.45},
{"t":"2025-11-21T06:05Z","s":"Transit","v":2.45},
{"t":"2025-11-21T06:10Z","s":"Transit","v":2.3},
{"t":"2025-11-21T06:15Z","s":"Transit","v":2.2},
{"t":"2025-11-21T06:20Z","s":"Transit","v":2.15},
{"t":"2025-11-21T06:25Z","s":"Transit","v":2.1},
{"t":"2025-11-21T06:30Z","s":"Transit","v":2.2},
{"t":"2025-11-21T06:35Z","s":"Transit","v":2.2},
{"t":"2025-11-21T06:40Z","s":"Transit","v":2.05},
{"t":"2025-11-21T06:45Z","s":"Transit","v":1.95},
{"t":"2025-11-21T06:50Z","s":"Transit","v":1.85},
{"t":"2025-11-21T06:55Z","s":"Transit","v":1.75},
{"t":"2025-11-21T07:00Z","s":"Transit","v":1.65},
{"t":"2025-11-21T07:05Z","s":"Transit","v":1.58},
{"t":"2025-11-21T07:10Z","s":"Transit","v":1.55},
{"t":"2025-11-21T07:15Z","s":"Transit","v":1.5},
{"t":"2025-11-21T07:20Z","s":"Transit","v":1.5},
{"t":"2025-11-21T07:25Z","s":"Transit","v":1.48},
{"t":"2025-11-21T07:30Z","s":"Transit","v":1.45},
{"t":"2025-11-21T07:35Z","s":"Transit","v":1.42},
{"t":"2025-11-21T07:40Z","s":"Transit","v":1.38},
{"t":"2025-11-21T07:45Z","s":"Transit","v":1.32},
{"t":"2025-11-21T07:50Z","s":"Transit","v":1.28},
{"t":"2025-11-21T07:55Z","s":"Transit","v":1.22},
{"t":"2025-11-21T08:00Z","s":"Transit","v":1.18},
{"t":"2025-11-21T08:05Z","s":"Transit","v":1.25},
{"t":"2025-11-21T08:10Z","s":"Transit","v":1.28},
{"t":"2025-11-21T08:15Z","s":"Transit","v":1.2},
{"t":"2025-11-21T08:20Z","s":"Transit","v":1.1},
{"t":"2025-11-21T08:25Z","s":"Transit","v":1.05},
{"t":"2025-11-21T08:30Z","s":"Transit","v":1.02},
{"t":"2025-11-21T08:35Z","s":"Transit","v":1.0},
{"t":"2025-11-21T08:40Z","s":"Transit","v":1.0},
{"t":"2025-11-21T08:45Z","s":"Transit","v":0.98},
{"t":"2025-11-21T08:50Z","s":"Transit","v":0.98},
{"t":"2025-11-21T08:55Z","s":"Transit","v":0.98},
{"t":"2025-11-21T09:00Z","s":"Transit","v":0.95},
{"t":"2025-11-21T09:05Z","s":"Transit","v":0.9},
{"t":"2025-11-21T09:10Z","s":"Transit","v":0.88},
{"t":"2025-11-21T09:15Z","s":"Transit","v":0.85},
{"t":"2025-11-21T09:20Z","s":"Transit","v":0.88},
{"t":"2025-11-21T09:25Z","s":"Transit","v":0.9},
{"t":"2025-11-21T09:30Z","s":"Transit","v":0.88},
{"t":"2025-11-21T09:35Z","s":"Transit","v":0.85},
{"t":"2025-11-21T09:40Z","s":"Transit","v":0.82},
{"t":"2025-11-21T09:45Z","s":"Transit","v":0.8},
{"t":"2025-11-21T09:50Z","s":"Transit","v":0.8},
{"t":"2025-11-21T09:55Z","s":"Transit","v":0.8}
]},
"mark": {"type": "line", "strokeWidth": 3.3, "strokeJoin": "round", "strokeCap": "round"},
"encoding": {
  "x": {
    "field": "t", "type": "temporal",
    "scale": {"type": "utc", "domain": [
      {"year": 2025, "month": 11, "date": 20, "hours": 19, "minutes": 51, "seconds": 46, "utc": true},
      {"year": 2025, "month": 11, "date": 21, "hours": 10, "minutes": 4, "seconds": 7, "utc": true}
    ]},
    "title": "2025-11-20 to 2025-11-21 UTC (5 minute intervals)",
    "axis": {
      "values": [
        {"year": 2025, "month": 11, "date": 20, "hours": 20, "utc": true},
        {"year": 2025, "month": 11, "date": 20, "hours": 22, "utc": true},
        {"year": 2025, "month": 11, "date": 21, "hours": 0, "utc": true},
        {"year": 2025, "month": 11, "date": 21, "hours": 2, "utc": true},
        {"year": 2025, "month": 11, "date": 21, "hours": 4, "utc": true},
        {"year": 2025, "month": 11, "date": 21, "hours": 6, "utc": true},
        {"year": 2025, "month": 11, "date": 21, "hours": 8, "utc": true},
        {"year": 2025, "month": 11, "date": 21, "hours": 10, "utc": true}
      ],
      "labelExpr": "utchours(datum.value) == 0 ? utcFormat(datum.value, '%m/%d') : utcFormat(datum.value, '%H:%M')",
      "grid": true, "gridColor": "#ebebeb", "gridWidth": 1.5,
      "domain": true, "domainColor": "#e6e6e6", "domainWidth": 2,
      "ticks": true, "tickColor": "#ebebeb", "tickWidth": 1.5, "tickSize": 16,
      "labelFontSize": 20, "labelColor": "#5f6b7a", "labelPadding": 3,
      "labelFlush": false, "labelBound": false, "labelOverlap": false,
      "titleFontSize": 20.6, "titleColor": "#64748b", "titlePadding": 15
    }
  },
  "y": {
    "field": "v", "type": "quantitative",
    "scale": {"domain": [0, 60]},
    "title": "bits/s",
    "axis": {
      "values": [0, 10, 20, 30, 40, 50, 60],
      "labels": false, "ticks": false, "domain": false,
      "grid": true, "gridColor": "#ebebeb", "gridWidth": 1.5,
      "titleFontSize": 20, "titleColor": "#64748b", "titlePadding": 4
    }
  },
  "color": {
    "field": "s", "type": "nominal",
    "scale": {
      "domain": ["Free Private Peering", "Embedded Cache", "Transit"],
      "range": ["#2b66d1", "#2ca638", "#d9a00e"]
    },
    "title": "Source Connectivity Type",
    "legend": {
      "orient": "none", "legendX": 1238, "legendY": 39.5,
      "direction": "vertical",
      "fillColor": "#ffffff", "strokeColor": "#ececec", "cornerRadius": 12, "padding": 21,
      "titleFont": "Inter", "titleFontSize": 20.8, "titleFontWeight": 600, "titleColor": "#1f2d3d", "titlePadding": 24, "titleLimit": 500,
      "labelFont": "Inter", "labelFontSize": 20, "labelColor": "#2680eb", "labelOffset": 37, "labelLimit": 500,
      "symbolType": "circle", "symbolSize": 650, "symbolStrokeWidth": 0,
      "rowPadding": 45,
      "encode": {"symbols": {"update": {"fill": {"scale": "color", "field": "value"}, "fillOpacity": {"value": 1}, "strokeWidth": {"value": 0}}}}
    }
  }
}
}
